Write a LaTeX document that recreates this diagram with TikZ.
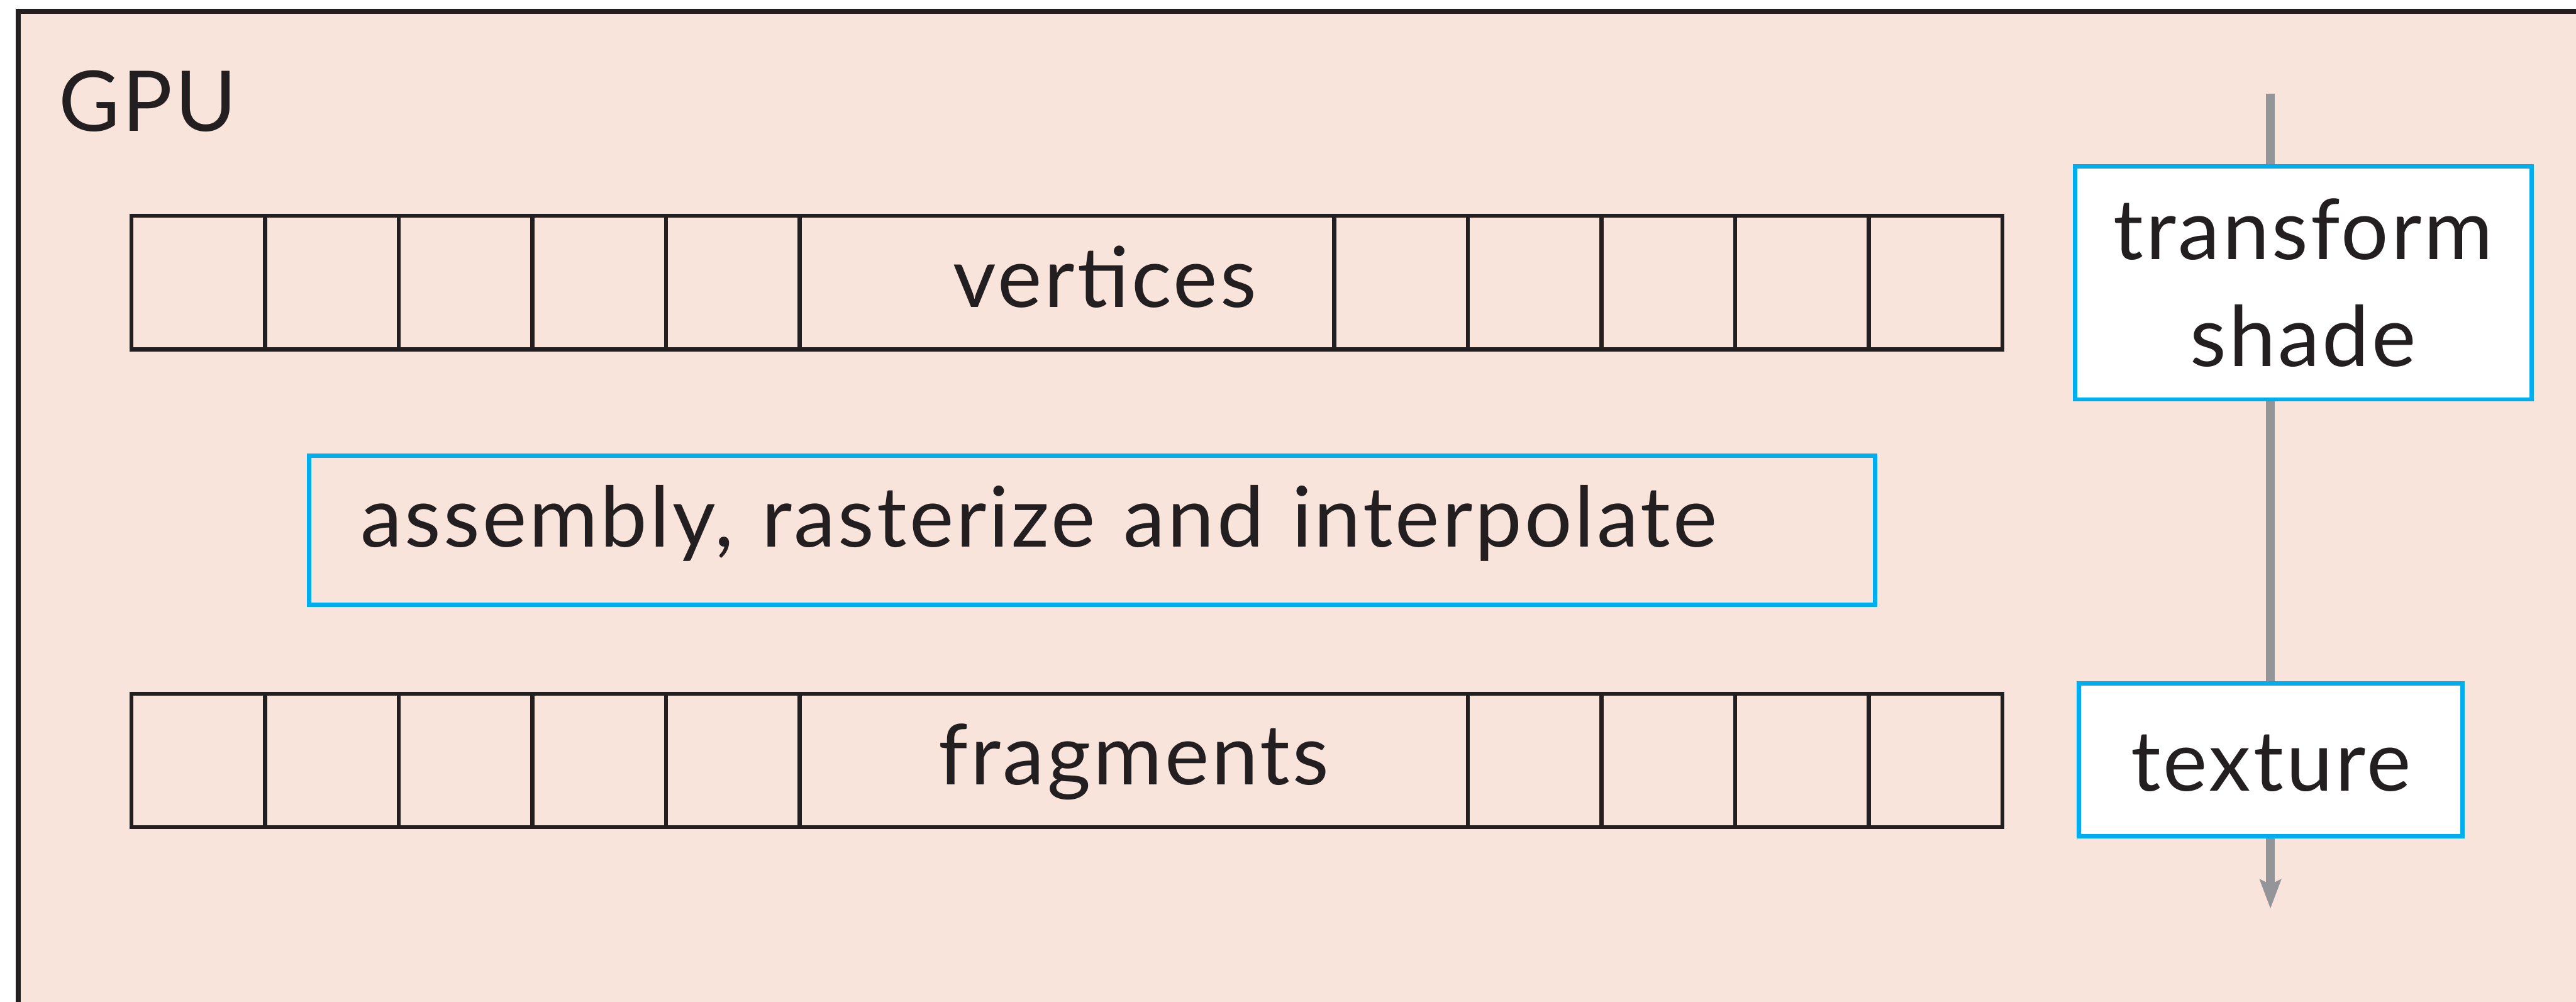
\documentclass[tikz,border=0pt]{standalone}
\usepackage{fontspec}
\setmainfont{Lato}[LetterSpace=3]
\usetikzlibrary{positioning,arrows.meta}

\definecolor{gpufill}{RGB}{248,228,219}
\definecolor{ink}{RGB}{35,31,32}
\definecolor{stageblue}{RGB}{0,174,239}
\definecolor{flowgray}{RGB}{147,149,152}

\begin{document}
\begin{tikzpicture}[
    x=0.01cm, y=-0.01cm,
    every node/.style={font=\fontsize{14.5pt}{18.5pt}\selectfont, text=ink},
    cell/.style={draw=ink, line width=0.7pt, minimum width=8.13mm,
                 minimum height=8.12mm, inner sep=0pt, outer sep=0pt},
    celltext/.style={text height=8.5pt, text depth=0pt},
    stage/.style={draw=stageblue, line width=0.75pt, fill=white,
                  inner sep=0pt, outer sep=0pt}
  ]
    \useasboundingbox (0,0) rectangle (1568,609.7);

    % GPU frame, open to the right and below
    \fill[gpufill] (11.2,6.9) rectangle (1568,609.7);
    \draw[ink, line width=0.9pt] (11.2,609.7) |- (1568,6.9);
    \node[anchor=base west, inner sep=0pt] (gpu) at (35,80) {GPU};

    % flow through the shader stages (drawn first, boxes sit on top)
    \coordinate (flowtop) at (1382,57);
    \coordinate (flowend) at (1382,553);
    \draw[flowgray, line width=1.45pt,
          -{Stealth[length=5pt, width=3.6pt, inset=0.8pt]}] (flowtop) -- (flowend);

    % vertex buffer
    \node[cell] (v1) at (120.75,172) {};
    \node[cell, right=0pt of v1] (v2) {};
    \node[cell, right=0pt of v2] (v3) {};
    \node[cell, right=0pt of v3] (v4) {};
    \node[cell, right=0pt of v4] (v5) {};
    \node[cell, minimum width=32.52mm, right=0pt of v5] (v6) {};
    \node[cell, right=0pt of v6] (v7) {};
    \node[cell, right=0pt of v7] (v8) {};
    \node[cell, right=0pt of v8] (v9) {};
    \node[cell, right=0pt of v9] (v10) {};
    \node[cell, right=0pt of v10] (v11) {};
    \node[celltext, xshift=2.3mm] (vlabel) at (v6) {vertices};

    % fixed-function middle stage
    \node[stage, fill=gpufill, minimum height=9.06mm, text width=88.98mm,
          inner xsep=3.14mm, text height=3.56mm, text depth=1.5mm, align=left]
          (assembly) at (664.7,322.7) {assembly, rasterize and interpolate};

    % fragment buffer
    \node[cell, below=20.94mm of v1] (f1) {};
    \node[cell, right=0pt of f1] (f2) {};
    \node[cell, right=0pt of f2] (f3) {};
    \node[cell, right=0pt of f3] (f4) {};
    \node[cell, right=0pt of f4] (f5) {};
    \node[cell, celltext, minimum width=40.65mm, right=0pt of f5] (f6) {fragments};
    \node[cell, right=0pt of f6] (f7) {};
    \node[cell, right=0pt of f7] (f8) {};
    \node[cell, right=0pt of f8] (f9) {};
    \node[cell, right=0pt of f9] (f10) {};

    % programmable stages
    \node[stage, minimum width=27.77mm, minimum height=14.17mm, align=center]
          (shade) at (1402,172.2) {transform\\shade};
    \node[stage, minimum width=23.35mm, minimum height=9.3mm,
          text height=10.7pt, text depth=0pt] (texture) at (1382.2,462.5) {texture};
  \end{tikzpicture}
\end{document}
